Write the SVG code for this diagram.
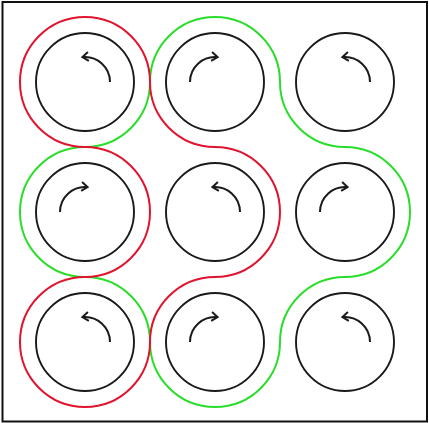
<svg xmlns="http://www.w3.org/2000/svg" width="429" height="423" viewBox="0 0 429 423">
<style>
.frame{fill:#fff;stroke:#111;stroke-width:2}
.gear{fill:none;stroke:#1a1a1a;stroke-width:1.9}
.arr{fill:none;stroke:#1a1a1a;stroke-width:2;marker-end:url(#head)}
.belt{fill:none;stroke-width:2}
.green{stroke:#2add2a}
.red{stroke:#e0142e}
</style>
<defs>
<marker id="head" markerUnits="userSpaceOnUse" markerWidth="14" markerHeight="14" refX="0" refY="0" viewBox="-8 -7 10 14" orient="auto">
<path d="M-6,-4.5 L0,0 L-6,4.5" fill="none" stroke="#1a1a1a" stroke-width="2"/>
</marker>
</defs>
<rect class="frame" x="2.5" y="2" width="424.5" height="419.5"/>
<g id="connectors">
<path class="belt green" d="M280,342 A65,65 0 0 1 345,277 A65,65 0 0 0 410,212 A65,65 0 0 0 345,147 A65,65 0 0 1 280,82 A65,65 0 0 0 215,17 A65,65 0 0 0 150,82 A65,65 0 0 1 85,147 A65,65 0 0 0 20,212 A65,65 0 0 0 85,277 A65,65 0 0 1 150,342 A65,65 0 0 0 215,407 A65,65 0 0 0 280,342 Z"/>
<path class="belt red" d="M150,82 A65,65 0 0 0 215,147 A65,65 0 0 1 280,212 A65,65 0 0 1 215,277 A65,65 0 0 0 150,342 A65,65 0 0 1 85,407 A65,65 0 0 1 20,342 A65,65 0 0 1 85,277 A65,65 0 0 0 150,212 A65,65 0 0 0 85,147 A65,65 0 0 1 20,82 A65,65 0 0 1 85,17 A65,65 0 0 1 150,82 Z"/>
</g>
<g id="g00"><circle class="gear" cx="85" cy="82" r="49"/><path class="arr" d="M110,82 A25,25 0 0 0 82.4,57.1"/></g>
<g id="g01"><circle class="gear" cx="215" cy="82" r="49"/><path class="arr" d="M190,82 A25,25 0 0 1 217.6,57.1"/></g>
<g id="g02"><circle class="gear" cx="345" cy="82" r="49"/><path class="arr" d="M370,82 A25,25 0 0 0 342.4,57.1"/></g>
<g id="g10"><circle class="gear" cx="85" cy="212" r="49"/><path class="arr" d="M60,212 A25,25 0 0 1 87.6,187.1"/></g>
<g id="g11"><circle class="gear" cx="215" cy="212" r="49"/><path class="arr" d="M240,212 A25,25 0 0 0 212.4,187.1"/></g>
<g id="g12"><circle class="gear" cx="345" cy="212" r="49"/><path class="arr" d="M320,212 A25,25 0 0 1 347.6,187.1"/></g>
<g id="g20"><circle class="gear" cx="85" cy="342" r="49"/><path class="arr" d="M110,342 A25,25 0 0 0 82.4,317.1"/></g>
<g id="g21"><circle class="gear" cx="215" cy="342" r="49"/><path class="arr" d="M190,342 A25,25 0 0 1 217.6,317.1"/></g>
<g id="g22"><circle class="gear" cx="345" cy="342" r="49"/><path class="arr" d="M370,342 A25,25 0 0 0 342.4,317.1"/></g>
</svg>
